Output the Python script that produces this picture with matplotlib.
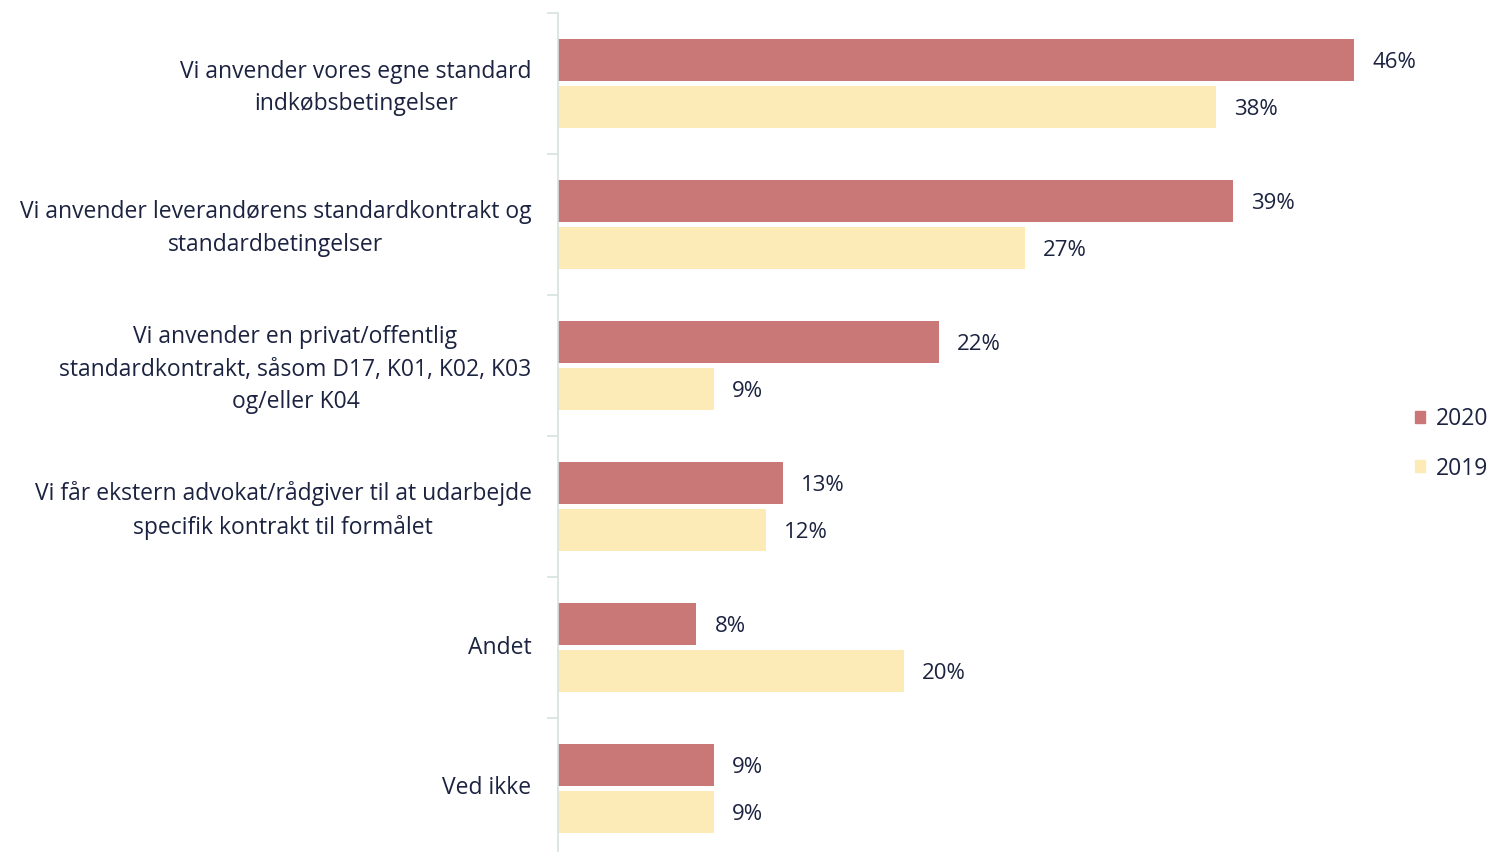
import matplotlib
matplotlib.use("Agg")
import matplotlib.pyplot as plt
from matplotlib.patches import Patch
from matplotlib.transforms import Affine2D

categories = [
    "Vi anvender vores egne standard\nindkøbsbetingelser",
    "Vi anvender leverandørens standardkontrakt og\nstandardbetingelser",
    "Vi anvender en privat/offentlig\nstandardkontrakt, såsom D17, K01, K02, K03\nog/eller K04",
    "Vi får ekstern advokat/rådgiver til at udarbejde\nspecifik kontrakt til formålet",
    "Andet",
    "Ved ikke",
]
series_names = ["2020", "2019"]
values_2020 = [46, 39, 22, 13, 8, 9]
values_2019 = [38, 27, 9, 12, 20, 9]

color_2020 = "#C97777"
color_2019 = "#FCEBB6"
text_color = "#1B2340"
spine_color = "#D5E3DE"

plt.rcParams["font.family"] = ["Open Sans", "DejaVu Sans"]

W, H = 1491, 852
fig = plt.figure(figsize=(W / 100, H / 100), dpi=100)
ax = fig.add_axes([558 / W, 1 - 859 / H, (1354 - 558) / W, (859 - 13) / H])

ypos = list(range(len(categories)))
bar_h = 0.298
off = 0.167
ax.barh([y - off for y in ypos], values_2020, height=bar_h, color=color_2020)
ax.barh([y + off for y in ypos], values_2019, height=bar_h, color=color_2019)

# value labels next to bar ends
for y, v in zip(ypos, values_2020):
    ax.annotate(f"{v}%", (v, y - off), xytext=(13, -1.5), textcoords="offset points",
                va="center", ha="left", fontsize=16, color=text_color, annotation_clip=False)
for y, v in zip(ypos, values_2019):
    ax.annotate(f"{v}%", (v, y + off), xytext=(13, -1.5), textcoords="offset points",
                va="center", ha="left", fontsize=16, color=text_color, annotation_clip=False)

ax.set_xlim(0, 46)
ax.set_ylim(len(categories) - 0.5, -0.5)

ax.set_yticks(ypos)
ax.set_yticklabels(categories, fontsize=16.5, color=text_color, multialignment="center",
                   linespacing=1.45)
ax.tick_params(axis="y", which="major", length=0, pad=19)
for lbl in ax.get_yticklabels():
    lbl.set_transform(lbl.get_transform() + Affine2D().translate(0, 3))
# small ticks between categories
ax.set_yticks([y - 0.5 for y in ypos], minor=True)
ax.tick_params(axis="y", which="minor", length=8, color=spine_color, width=1.2)
ax.set_xticks([])

for s in ["top", "right", "bottom"]:
    ax.spines[s].set_visible(False)
ax.spines["left"].set_color(spine_color)
ax.spines["left"].set_linewidth(1.2)

handles = [Patch(color=color_2020), Patch(color=color_2019)]
leg = fig.legend(handles, series_names, loc="center left", bbox_to_anchor=(1415 / W, 1 - 444 / H),
                 frameon=False, fontsize=16.5, handlelength=0.42, handleheight=0.42,
                 handletextpad=0.5, labelspacing=1.1, borderpad=0, borderaxespad=0)
for t in leg.get_texts():
    t.set_color(text_color)

fig.savefig("out.png", dpi=100)
